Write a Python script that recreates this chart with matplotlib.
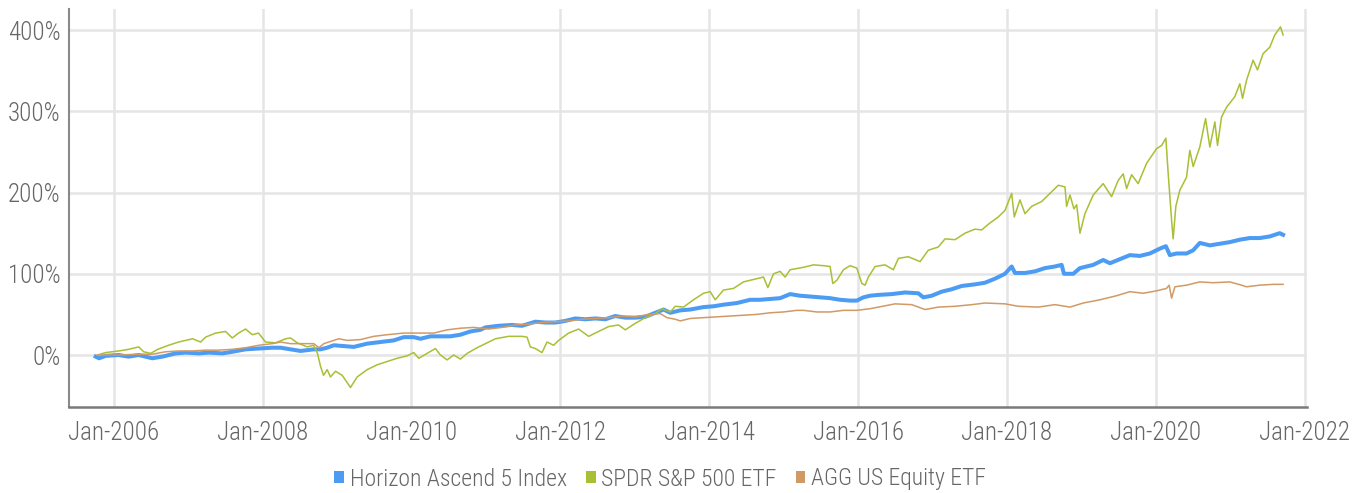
import matplotlib
matplotlib.use("Agg")
import matplotlib.pyplot as plt
from matplotlib.patches import Patch

# cumulative return (%) against time in decimal years
hz_t = [2005.758, 2005.803, 2005.893, 2006.067, 2006.201, 2006.336, 2006.519, 2006.654, 2006.832, 2006.966,
        2007.145, 2007.279, 2007.459, 2007.593, 2007.772, 2007.950, 2008.130, 2008.242, 2008.376, 2008.510,
        2008.689, 2008.779, 2008.868, 2008.957, 2009.091, 2009.226, 2009.405, 2009.584, 2009.762, 2009.897,
        2010.031, 2010.121, 2010.255, 2010.389, 2010.523, 2010.658, 2010.792, 2010.926, 2010.993, 2011.172,
        2011.351, 2011.486, 2011.664, 2011.799, 2011.933, 2012.067, 2012.201, 2012.336, 2012.470, 2012.604,
        2012.738, 2012.872, 2013.007, 2013.141, 2013.275, 2013.387, 2013.477, 2013.611, 2013.745, 2013.923,
        2014.058, 2014.192, 2014.372, 2014.550, 2014.685, 2014.819, 2014.953, 2015.087, 2015.221, 2015.356,
        2015.490, 2015.624, 2015.758, 2015.893, 2015.983, 2016.071, 2016.161, 2016.272, 2016.452, 2016.631,
        2016.809, 2016.876, 2016.989, 2017.123, 2017.258, 2017.392, 2017.570, 2017.705, 2017.839, 2017.973,
        2018.063, 2018.107, 2018.242, 2018.376, 2018.510, 2018.644, 2018.734, 2018.765, 2018.890, 2018.980,
        2019.158, 2019.292, 2019.383, 2019.517, 2019.651, 2019.785, 2019.919, 2020.054, 2020.134, 2020.188,
        2020.277, 2020.412, 2020.501, 2020.590, 2020.725, 2020.859, 2020.993, 2021.128, 2021.262, 2021.396,
        2021.530, 2021.664, 2021.709]
hz_val = [-2, -4, -1, 0, -2, 0, -4, -2, 2, 3,
          2, 3, 2, 4, 7, 8, 9, 9, 7, 5,
          7, 7, 9, 12, 11, 10, 14, 16, 18, 22,
          22, 20, 23, 23, 23, 25, 29, 31, 34, 36,
          37, 36, 41, 40, 40, 42, 45, 44, 45, 44,
          48, 46, 46, 47, 52, 56, 52, 55, 56, 59,
          60, 62, 64, 68, 68, 69, 70, 75, 73, 72,
          71, 70, 68, 67, 67, 71, 73, 74, 75, 77,
          76, 71, 73, 78, 81, 85, 87, 89, 94, 100,
          109, 101, 101, 103, 107, 109, 111, 100, 100, 107,
          111, 117, 113, 118, 123, 122, 125, 131, 134, 123,
          125, 125, 129, 138, 135, 137, 139, 142, 144, 144,
          146, 150, 148]

spy_t = [2005.781, 2005.893, 2006.067, 2006.201, 2006.336, 2006.403, 2006.497, 2006.591, 2006.738, 2006.872,
         2007.060, 2007.168, 2007.235, 2007.369, 2007.503, 2007.593, 2007.678, 2007.772, 2007.862, 2007.946,
         2008.040, 2008.174, 2008.309, 2008.376, 2008.466, 2008.600, 2008.685, 2008.738, 2008.779, 2008.819,
         2008.868, 2008.913, 2008.980, 2009.070, 2009.181, 2009.271, 2009.405, 2009.540, 2009.674, 2009.808,
         2009.942, 2010.031, 2010.098, 2010.211, 2010.322, 2010.389, 2010.479, 2010.568, 2010.658, 2010.748,
         2010.882, 2010.993, 2011.128, 2011.306, 2011.486, 2011.553, 2011.597, 2011.664, 2011.754, 2011.821,
         2011.910, 2011.977, 2012.111, 2012.246, 2012.380, 2012.514, 2012.648, 2012.783, 2012.872, 2013.007,
         2013.141, 2013.275, 2013.365, 2013.477, 2013.544, 2013.655, 2013.789, 2013.923, 2014.013, 2014.081,
         2014.192, 2014.326, 2014.460, 2014.640, 2014.729, 2014.788, 2014.863, 2014.953, 2015.020, 2015.087,
         2015.266, 2015.400, 2015.534, 2015.624, 2015.660, 2015.714, 2015.803, 2015.893, 2015.983, 2016.050,
         2016.094, 2016.138, 2016.228, 2016.362, 2016.474, 2016.541, 2016.675, 2016.832, 2016.943, 2017.078,
         2017.168, 2017.302, 2017.436, 2017.570, 2017.660, 2017.749, 2017.883, 2017.973, 2018.063, 2018.098,
         2018.174, 2018.242, 2018.331, 2018.466, 2018.600, 2018.689, 2018.779, 2018.801, 2018.846, 2018.899,
         2018.936, 2018.980, 2019.047, 2019.158, 2019.292, 2019.405, 2019.494, 2019.561, 2019.607, 2019.674,
         2019.762, 2019.875, 2020.009, 2020.077, 2020.134, 2020.165, 2020.211, 2020.232, 2020.268, 2020.322,
         2020.412, 2020.456, 2020.501, 2020.590, 2020.667, 2020.725, 2020.792, 2020.828, 2020.882, 2020.949,
         2021.060, 2021.128, 2021.164, 2021.217, 2021.306, 2021.365, 2021.440, 2021.530, 2021.597, 2021.674,
         2021.709]
spy_val = [0, 3, 5, 7, 10, 4, 2, 7, 12, 16,
           20, 16, 22, 27, 29, 21, 27, 32, 25, 27,
           16, 15, 20, 21, 15, 10, 12, 2, -14, -25,
           -18, -27, -20, -25, -40, -27, -18, -12, -8, -4,
           -1, 3, -4, 2, 8, 0, -6, 0, -5, 2,
           9, 14, 20, 23, 23, 22, 10, 8, 3, 16,
           12, 18, 27, 32, 23, 29, 35, 37, 31, 39,
           46, 51, 57, 53, 60, 59, 68, 76, 78, 68,
           80, 82, 90, 94, 96, 83, 100, 103, 96, 105,
           108, 111, 110, 109, 88, 92, 105, 110, 107, 88,
           86, 96, 109, 111, 105, 119, 121, 115, 129, 133,
           143, 142, 150, 155, 154, 161, 170, 178, 199, 170,
           191, 174, 183, 189, 201, 209, 207, 183, 197, 180,
           185, 150, 174, 197, 211, 195, 215, 223, 205, 222,
           211, 236, 254, 258, 267, 224, 166, 143, 183, 203,
           219, 252, 232, 256, 291, 256, 287, 258, 293, 305,
           318, 334, 316, 338, 363, 351, 371, 379, 394, 404,
           394]

agg_t = [2005.781, 2006.067, 2006.336, 2006.519, 2006.698, 2006.872, 2007.056, 2007.235, 2007.413, 2007.593,
         2007.772, 2007.950, 2008.130, 2008.242, 2008.376, 2008.510, 2008.689, 2008.756, 2008.823, 2008.957,
         2009.024, 2009.137, 2009.315, 2009.494, 2009.674, 2009.897, 2010.121, 2010.299, 2010.479, 2010.658,
         2010.836, 2011.037, 2011.217, 2011.396, 2011.574, 2011.754, 2011.933, 2012.111, 2012.291, 2012.470,
         2012.648, 2012.828, 2013.007, 2013.185, 2013.342, 2013.432, 2013.544, 2013.611, 2013.745, 2013.923,
         2014.103, 2014.282, 2014.460, 2014.640, 2014.819, 2014.997, 2015.177, 2015.266, 2015.445, 2015.624,
         2015.803, 2015.983, 2016.161, 2016.272, 2016.497, 2016.721, 2016.899, 2017.078, 2017.302, 2017.526,
         2017.705, 2017.973, 2018.152, 2018.421, 2018.644, 2018.779, 2018.846, 2019.024, 2019.248, 2019.472,
         2019.651, 2019.829, 2020.009, 2020.143, 2020.178, 2020.211, 2020.255, 2020.412, 2020.590, 2020.769,
         2020.993, 2021.151, 2021.217, 2021.396, 2021.574, 2021.709]
agg_val = [0, 0, 1, 1, 4, 5, 5, 6, 6, 7,
           9, 12, 14, 16, 14, 14, 14, 9, 14, 18,
           20, 18, 19, 23, 25, 27, 27, 27, 31, 33,
           34, 32, 34, 37, 38, 40, 41, 42, 44, 45,
           46, 48, 47, 50, 51, 46, 44, 42, 45, 46,
           47, 48, 49, 50, 52, 53, 55, 55, 53, 53,
           55, 55, 57, 59, 63, 62, 56, 59, 60, 62,
           64, 63, 60, 59, 62, 60, 59, 64, 68, 73,
           78, 76, 79, 82, 86, 70, 84, 86, 90, 89,
           90, 86, 84, 86, 87, 87]

labels = ["Horizon Ascend 5 Index", "SPDR S&P 500 ETF", "AGG US Equity ETF"]
colors = ["#4d9cf4", "#a9bf34", "#d09a66"]

years = list(range(2006, 2023, 2))
pct_ticks = [0, 100, 200, 300, 400]

plt.rcParams["font.family"] = ["Roboto Condensed", "Roboto", "DejaVu Sans"]
plt.rcParams["font.weight"] = "light"

fig = plt.figure(figsize=(13.62, 4.93), dpi=100)
ax = fig.add_axes([69 / 1362, 1 - 407 / 493, (1307 - 69) / 1362, (407 - 9) / 493])

ax.plot(hz_t, hz_val, color=colors[0], lw=2.9, zorder=3)
ax.plot(spy_t, spy_val, color=colors[1], lw=1.1, zorder=3)
ax.plot(agg_t, agg_val, color=colors[2], lw=1.1, zorder=3)

ax.set_xlim(2005.40, 2022.03)
ax.set_ylim(-64, 426)
ax.set_xticks(years)
ax.set_xticklabels([f"Jan-{y}" for y in years])
ax.set_yticks(pct_ticks)
ax.set_yticklabels([f"{p}%" for p in pct_ticks])

ax.grid(True, color="#e5e5e5", lw=1.8)
ax.set_axisbelow(True)
ax.tick_params(length=0, labelsize=18, colors="#666666")
ax.tick_params(axis="x", pad=10)
ax.tick_params(axis="y", pad=6)
for side in ["top", "right"]:
    ax.spines[side].set_visible(False)
ax.spines["left"].set_color("#8a8a8a")
ax.spines["left"].set_linewidth(1.5)
ax.spines["bottom"].set_color("#7a7a7a")
ax.spines["bottom"].set_linewidth(1.8)

handles = [Patch(facecolor=c, edgecolor="none") for c in colors]
fig.legend(handles, labels, loc="center", bbox_to_anchor=(660 / 1362, 1 - 479 / 493),
           ncol=3, frameon=False, fontsize=17, labelcolor="#666666",
           handlelength=0.42, handleheight=0.42, handletextpad=0.25,
           columnspacing=0.8, borderpad=0, borderaxespad=0)

fig.savefig("out.png", dpi=100)
